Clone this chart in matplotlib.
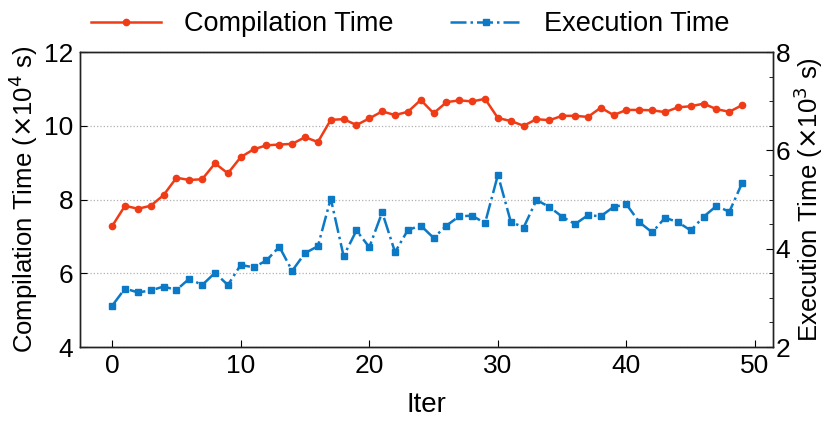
import matplotlib.pyplot as plt
from matplotlib.ticker import MultipleLocator

plt.rcParams['font.family'] = ['Liberation Sans', 'DejaVu Sans']

iters = list(range(50))

# compilation time, units of 1e4 s
compile_time = [7.28, 7.83, 7.75, 7.83, 8.12, 8.59, 8.53, 8.55, 8.98, 8.71,
                9.15, 9.36, 9.47, 9.49, 9.51, 9.69, 9.56, 10.16, 10.18, 10.02,
                10.20, 10.39, 10.29, 10.38, 10.70, 10.34, 10.64, 10.69, 10.66, 10.73,
                10.21, 10.13, 10.00, 10.18, 10.15, 10.27, 10.27, 10.24, 10.49, 10.29,
                10.43, 10.43, 10.42, 10.37, 10.50, 10.53, 10.60, 10.45, 10.38, 10.56]

# execution time, units of 1e3 s
exec_time = [2.84, 3.19, 3.11, 3.15, 3.23, 3.16, 3.39, 3.26, 3.51, 3.26,
             3.67, 3.62, 3.76, 4.04, 3.55, 3.91, 4.05, 5.02, 3.85, 4.37,
             4.03, 4.74, 3.93, 4.38, 4.47, 4.22, 4.47, 4.66, 4.67, 4.52,
             5.50, 4.55, 4.43, 4.99, 4.85, 4.65, 4.50, 4.68, 4.66, 4.85,
             4.90, 4.54, 4.33, 4.63, 4.54, 4.37, 4.65, 4.87, 4.75, 5.34]

red = '#F03C16'
blue = '#0B79C6'

fig = plt.figure(figsize=(8.3, 4.3), dpi=100)
ax = fig.add_axes([0.0964, 0.193, 0.835, 0.686])
ax2 = ax.twinx()

l1, = ax.plot(iters, compile_time, color=red, lw=1.8, marker='o', ms=4.5,
              label='Compilation Time')
l2, = ax2.plot(iters, exec_time, color=blue, lw=1.8, ls='-.', marker='s', ms=4.5,
               label='Execution Time')

ax.set_xlim(-2.5, 51.4)
ax.set_ylim(4, 12)
ax2.set_ylim(2, 8)
ax.set_xticks([0, 10, 20, 30, 40, 50])
ax.set_yticks([4, 6, 8, 10, 12])
ax2.set_yticks([2, 4, 6, 8])
ax2.yaxis.set_minor_locator(MultipleLocator(0.5))

ax.grid(axis='y', ls=':', color='#b0b0b0', lw=0.9)
ax.set_axisbelow(True)

ax.tick_params(axis='both', direction='in', labelsize=19, length=5, pad=5)
ax2.tick_params(axis='y', which='major', direction='in', labelsize=19, length=5, pad=2)
ax2.tick_params(axis='y', which='minor', direction='in', length=3)

for a in (ax, ax2):
    for s in a.spines.values():
        s.set_linewidth(1.0)
        s.set_color('#222222')

ax.set_xlabel('Iter', fontsize=20, labelpad=10)
ax.set_ylabel(r'Compilation Time ($\times$10$^4$ s)', fontsize=18.5, labelpad=3)
ax2.set_ylabel(r'Execution Time ($\times$10$^3$ s)', fontsize=18.5, labelpad=1)

fig.legend(handles=[l1, l2], loc='upper center', bbox_to_anchor=(0.494, 1.03),
           ncol=2, frameon=False, fontsize=19.5, handlelength=2.6,
           handletextpad=0.85, columnspacing=2.1)

fig.savefig('out.png', dpi=100)
